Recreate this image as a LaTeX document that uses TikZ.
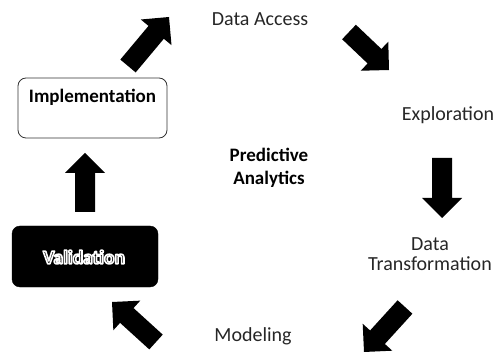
\documentclass[tikz,border=0pt]{standalone}
\usepackage{fontspec}
\setmainfont{Carlito}
\usetikzlibrary{calc}
\newcommand\outlinedtext[1]{\special{pdf:literal direct q 2 Tr 1.6 w 1 j 1 1 1 RG 0 0 0 rg}#1\special{pdf:literal direct Q}}
\tikzset{
  lbl/.style={inner sep=0pt, font=\fontsize{20}{21}\selectfont, text=black!85},
  boldlbl/.style={inner sep=0pt, font=\fontsize{19}{23}\selectfont\bfseries, align=center},
  whitebox/.style={draw=black!80, line width=0.8pt, rounded corners=8pt, fill=white, minimum width=149pt, minimum height=60pt, inner sep=0pt},
  blackbox/.style={draw=black, fill=black, rounded corners=8pt, minimum width=146pt, minimum height=61pt, inner sep=0pt},
  blk/.style={fill=black}
}
\newcommand\blockarrow[2]{%
  \path ($(#2)!20pt!(#1)$) coordinate (#1-#2-h);
  \fill[blk] ($(#1)!10pt!90:(#2)$) -- ($(#1-#2-h)!10pt!-90:(#1)$) -- ($(#1-#2-h)!20pt!-90:(#1)$) -- (#2)
     -- ($(#1-#2-h)!20pt!90:(#1)$) -- ($(#1-#2-h)!10pt!90:(#1)$) -- ($(#1)!10pt!-90:(#2)$) -- cycle;
}
\begin{document}
\begin{tikzpicture}[x=1pt,y=-1pt]
\useasboundingbox (0,0) rectangle (497,352);
% boxes
\node[whitebox] (impl) at (92.5,108) {};
\node[boldlbl] (implt) at (92.5,97) {Implementation};
\node[blackbox] (valid) at (85,256.5) {};
\node[boldlbl, text=black, font=\fontsize{19.5}{23}\selectfont\bfseries] (validt) at (84,257) {\outlinedtext{Validation}};
% labels
\node[lbl] (access) at (260,19.5) {Data Access};
\node[lbl] (explor) at (448,115) {Exploration};
\node[boldlbl] (pa) at (269,168) {Predictive\\Analytics};
\node[lbl, align=center, font=\fontsize{20}{20}\selectfont] (trans) at (430,254) {Data\\Transformation};
\node[lbl] (model) at (253,336) {Modeling};
% arrow end points
\coordinate (a1t) at (128,66);  \coordinate (a1h) at (169,17);
\coordinate (a2t) at (349,32);  \coordinate (a2h) at (389,70);
\coordinate (a3t) at (442,158); \coordinate (a3h) at (442,218);
\coordinate (a4t) at (405,307); \coordinate (a4h) at (364,352);
\coordinate (a5t) at (156,342); \coordinate (a5h) at (112,302);
\coordinate (a6t) at (85,212);  \coordinate (a6h) at (85,153);
\blockarrow{a1t}{a1h}
\blockarrow{a2t}{a2h}
\blockarrow{a3t}{a3h}
\blockarrow{a4t}{a4h}
\blockarrow{a5t}{a5h}
\blockarrow{a6t}{a6h}
\end{tikzpicture}
\end{document}
